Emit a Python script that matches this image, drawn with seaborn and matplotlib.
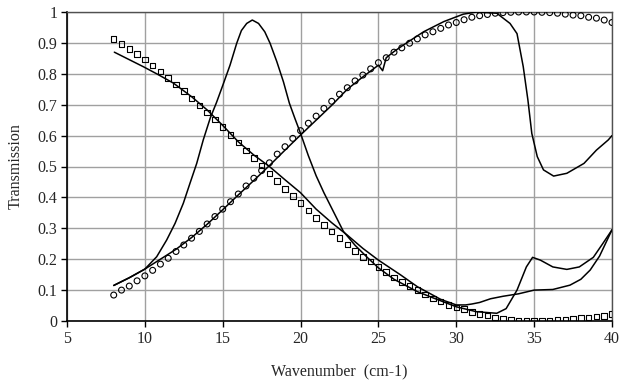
import matplotlib
matplotlib.use("Agg")
import matplotlib.pyplot as plt
import seaborn as sns
import numpy as np
import pandas as pd

# ---- data ----
x_markers = [8.0 + 0.5 * i for i in range(65)]
squares = [0.912, 0.897, 0.881, 0.864, 0.846, 0.827, 0.808, 0.787, 0.765, 0.744,
           0.720, 0.698, 0.675, 0.652, 0.628, 0.602, 0.578, 0.552, 0.528, 0.503,
           0.478, 0.453, 0.428, 0.405, 0.381, 0.357, 0.334, 0.311, 0.289, 0.268,
           0.248, 0.227, 0.208, 0.192, 0.174, 0.158, 0.141, 0.127, 0.113, 0.100,
           0.086, 0.073, 0.063, 0.052, 0.044, 0.038, 0.030, 0.023, 0.018, 0.012,
           0.008, 0.004, 0.002, 0.001, 0.000, 0.001, 0.002, 0.003, 0.005, 0.008,
           0.010, 0.012, 0.014, 0.017, 0.023]
circles = [0.084, 0.100, 0.113, 0.130, 0.146, 0.164, 0.184, 0.203, 0.225, 0.246,
           0.268, 0.290, 0.314, 0.338, 0.362, 0.386, 0.411, 0.437, 0.462, 0.487,
           0.512, 0.540, 0.564, 0.591, 0.616, 0.640, 0.663, 0.688, 0.711, 0.734,
           0.755, 0.777, 0.796, 0.816, 0.836, 0.852, 0.870, 0.884, 0.899, 0.913,
           0.926, 0.936, 0.947, 0.958, 0.966, 0.975, 0.983, 0.988, 0.992, 0.996,
           0.998, 0.999, 1.000, 1.000, 1.000, 0.999, 0.998, 0.996, 0.993, 0.990,
           0.988, 0.983, 0.980, 0.974, 0.966]

xA = [8.04, 8.83, 9.9, 10.76, 11.83, 13.0, 14.0, 15.0, 16.0, 17.0, 18.0, 19.0,
      20.0, 21.0, 22.0, 23.0, 24.0, 25.0, 26.4, 27.5, 29.0, 30.0, 30.6, 31.0,
      31.5, 32.2, 33.0, 34.0, 35.0, 36.2, 37.3, 38.0, 38.6, 39.2, 40.0]
yA = [0.870, 0.850, 0.823, 0.800, 0.770, 0.726, 0.683, 0.633, 0.580, 0.537,
      0.500, 0.457, 0.415, 0.362, 0.318, 0.278, 0.235, 0.197, 0.150, 0.111,
      0.070, 0.052, 0.052, 0.055, 0.060, 0.072, 0.080, 0.088, 0.100, 0.102,
      0.116, 0.135, 0.165, 0.210, 0.295]

xB = [8.0, 9.0, 10.0, 10.76, 11.4, 11.94, 12.47, 12.9, 13.33, 13.75, 14.2, 14.6,
      15.0, 15.47, 15.9, 16.2, 16.54, 16.9, 17.3, 17.7, 18.04, 18.47, 18.9,
      19.28, 19.64, 20.0, 20.5, 21.0, 21.5, 22.0, 22.75, 23.5, 24.3, 25.0, 26.0,
      27.5, 28.5, 30.0, 31.3, 32.6, 33.2, 33.9, 34.5, 34.9, 35.4, 36.2, 37.1,
      37.9, 38.8, 39.4, 40.0]
yB = [0.115, 0.140, 0.168, 0.208, 0.262, 0.316, 0.381, 0.446, 0.510, 0.586,
      0.657, 0.707, 0.762, 0.828, 0.899, 0.940, 0.963, 0.974, 0.963, 0.936,
      0.899, 0.840, 0.774, 0.705, 0.655, 0.607, 0.535, 0.470, 0.415, 0.365,
      0.290, 0.245, 0.205, 0.172, 0.135, 0.095, 0.075, 0.046, 0.030, 0.025,
      0.040, 0.100, 0.175, 0.206, 0.197, 0.175, 0.167, 0.175, 0.206, 0.250,
      0.295]

xC = [8.0, 9.0, 10.0, 11.0, 12.0, 13.0, 14.0, 15.0, 16.0, 17.0, 18.0, 19.0,
      20.0, 21.0, 22.0, 23.0, 24.0, 25.0, 25.27, 25.5, 26.0, 26.6, 27.9, 29.2,
      30.45, 31.3, 32.6, 33.45, 33.9, 34.3, 34.6, 34.85, 35.2, 35.6, 36.25,
      37.1, 38.2, 39.0, 39.76, 40.0]
yC = [0.115, 0.140, 0.168, 0.200, 0.232, 0.270, 0.313, 0.360, 0.408, 0.455,
      0.503, 0.553, 0.602, 0.650, 0.698, 0.750, 0.790, 0.828, 0.810, 0.852,
      0.872, 0.893, 0.936, 0.969, 0.993, 1.000, 0.996, 0.963, 0.930, 0.823,
      0.715, 0.607, 0.532, 0.489, 0.469, 0.478, 0.510, 0.553, 0.586, 0.600]

x_ticks = [5, 10, 15, 20, 25, 30, 35, 40]
y_ticks = [0, 0.1, 0.2, 0.3, 0.4, 0.5, 0.6, 0.7, 0.8, 0.9, 1.0]
y_tick_labels = ["0", "0.1", "0.2", "0.3", "0.4", "0.5", "0.6", "0.7", "0.8", "0.9", "1"]

# ---- plot ----
sns.set_style("white")
plt.rcParams['font.family'] = ['Liberation Serif', 'DejaVu Serif']

fig = plt.figure(figsize=(6.2, 3.88), dpi=100)
ax = fig.add_axes([67 / 620, 1 - 321 / 388, (612 - 67) / 620, (321 - 12) / 388])

for xs, ys in [(xA, yA), (xB, yB), (xC, yC)]:
    df = pd.DataFrame({"x": xs, "y": ys})
    sns.lineplot(data=df, x="x", y="y", ax=ax, color="black", linewidth=1.1,
                 sort=False, estimator=None, zorder=3)

dfm = pd.DataFrame({"x": x_markers, "sq": squares, "ci": circles})
sns.scatterplot(data=dfm, x="x", y="sq", ax=ax, marker="s", s=16,
                facecolor="none", edgecolor="black", linewidth=0.8, zorder=4)
sns.scatterplot(data=dfm, x="x", y="ci", ax=ax, marker="o", s=18,
                facecolor="none", edgecolor="black", linewidth=0.8, zorder=4)

ax.set_xlim(5, 40)
ax.set_ylim(0, 1)
ax.set_xticks(x_ticks)
ax.set_yticks(y_ticks)
ax.set_yticklabels(y_tick_labels)
ax.grid(True, color="#a0a0a0", linewidth=1.0)
ax.set_axisbelow(True)
for s in ["left", "bottom"]:
    ax.spines[s].set_color("black")
    ax.spines[s].set_linewidth(1.2)
for s in ["top", "right"]:
    ax.spines[s].set_color("#505050")
    ax.spines[s].set_linewidth(1.0)
ax.tick_params(axis="both", which="both", direction="out", length=4, width=1,
               color="black", labelsize=11.5, pad=3, bottom=True, left=True)
ax.set_xlabel("Wavenumber  (cm-1)", fontsize=11.5, labelpad=12)
ax.set_ylabel("Transmission", fontsize=11.5, labelpad=10)

fig.savefig("out.png", dpi=100)
